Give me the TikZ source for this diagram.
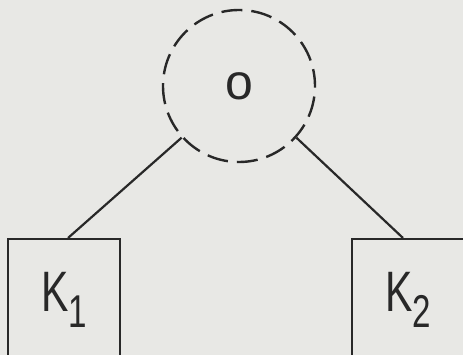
\documentclass[tikz,border=0pt]{standalone}
\usepackage{fontspec}
\setsansfont{Liberation Sans}
\definecolor{paper}{RGB}{232,232,229}
\definecolor{inkc}{RGB}{40,40,40}
\newcommand\klab[2]{\scalebox{0.72}[1]{\fontsize{57}{57}\selectfont\sffamily #1\kern-1pt\raisebox{-16pt}{\fontsize{46}{46}\selectfont #2}}}
\tikzset{
  outerc/.style={circle, draw=inkc, line width=2.4pt, dash pattern=on 21pt off 9pt, dash phase=4pt, minimum size=152pt, inner sep=0pt, text=inkc},
  kbox/.style={rectangle, draw=inkc, line width=2.2pt, minimum width=112pt, minimum height=122pt, inner sep=0pt, anchor=north, text=inkc},
  conn/.style={draw=inkc, line width=2.2pt}
}
\begin{document}
\begin{tikzpicture}[x=1pt,y=-1pt]
\useasboundingbox (0,0) rectangle (463,355);
\clip (0,0) rectangle (463,355);
\fill[paper] (0,0) rectangle (463,355);
\node[outerc] (o) at (239,86) {\fontsize{50}{50}\selectfont\sffamily o};
\node[kbox] (k1) at (64,238) {\klab{K}{1}};
\node[kbox] (k2) at (408,238) {\klab{K}{2}};
\draw[conn] (o.222) -- ([xshift=4pt]k1.north);
\draw[conn] (o.318) -- ([xshift=-5pt]k2.north);
\end{tikzpicture}
\end{document}
